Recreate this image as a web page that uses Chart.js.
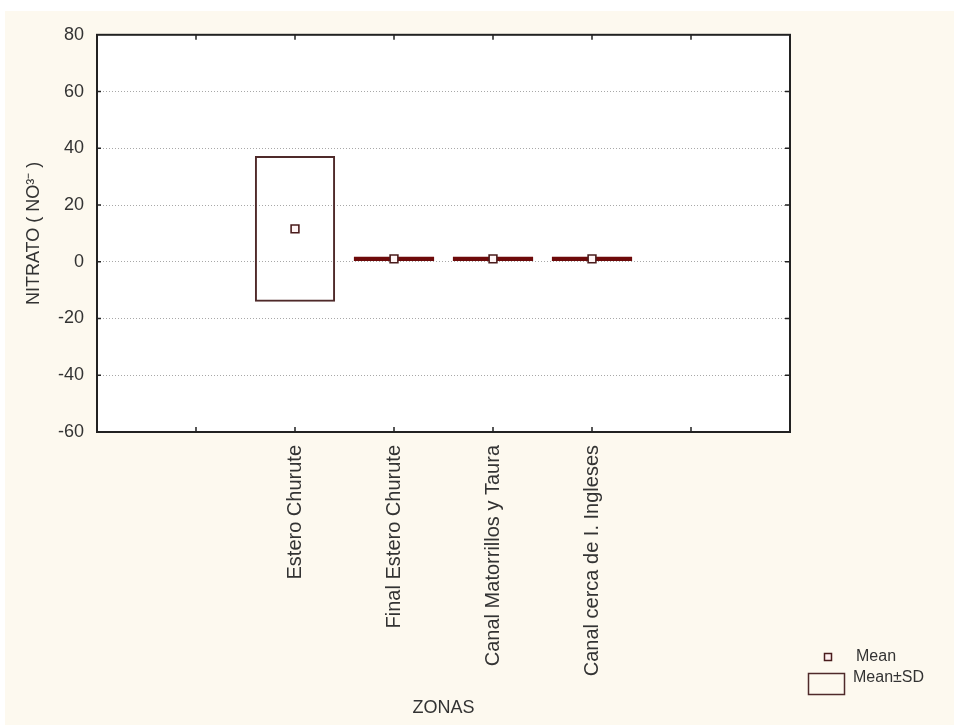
<!DOCTYPE html>
<html>
<head>
<meta charset="utf-8">
<script src="https://cdn.jsdelivr.net/npm/chart.js@4.4.1/dist/chart.umd.min.js"></script>
<style>
  body { margin: 0; background: #fff; }
  #wrap { position: absolute; left: 5px; top: 11px; width: 949px; height: 714px; }
</style>
</head>
<body>
<div id="wrap"><canvas id="myChart"></canvas></div>
<script>
// zones (empty slots on both sides, like the original plot)
var zonas = ["", "", "Estero Churute", "Final Estero Churute", "Canal Matorrillos y Taura", "Canal cerca de I. Ingleses", "", ""];
var meanArr = [null, null, 11.6, 1.0, 1.0, 1.0, null, null];
var sdLowArr = [null, null, -14.1, 0.3, 0.3, 0.3, null, null];
var sdHighArr = [null, null, 37.3, 1.8, 1.8, 1.8, null, null];
var yMin = -60, yMax = 80, yStep = 20;

var FONT = "'Liberation Sans', Arial, sans-serif";
Chart.defaults.font.family = FONT;
Chart.defaults.color = "#333";

// floating bars for mean +- SD
var sdArr = zonas.map(function (z, i) {
  return sdLowArr[i] == null ? null : [sdLowArr[i], sdHighArr[i]];
});

function isThin(ctx) {
  var v = ctx.raw;
  return v && Math.abs(v[1] - v[0]) < 5;
}

// background, frame, inward ticks and legend
var framePlugin = {
  id: "frame",
  beforeDraw: function (chart) {
    var c = chart.ctx, a = chart.chartArea;
    c.save();
    c.fillStyle = "#fdf9ef";
    c.fillRect(0, 0, chart.width, chart.height);
    c.fillStyle = "#fff";
    c.fillRect(a.left, a.top, a.right - a.left, a.bottom - a.top);
    c.restore();
  },
  afterDraw: function (chart) {
    var c = chart.ctx, a = chart.chartArea;
    var xs = chart.scales.x, ys = chart.scales.y;
    c.save();
    c.strokeStyle = "#222";
    c.lineWidth = 2;
    c.strokeRect(a.left, a.top, a.right - a.left, a.bottom - a.top);
    c.lineWidth = 1.5;
    c.beginPath();
    for (var i = 1; i < zonas.length - 1; i++) {
      var px = xs.getPixelForValue(i);
      c.moveTo(px, a.top); c.lineTo(px, a.top + 5);
      c.moveTo(px, a.bottom); c.lineTo(px, a.bottom - 5);
    }
    for (var v = yMin + yStep; v < yMax; v += yStep) {
      var py = ys.getPixelForValue(v);
      c.moveTo(a.left, py); c.lineTo(a.left + 4, py);
      c.moveTo(a.right, py); c.lineTo(a.right - 5, py);
    }
    c.stroke();

    // legend
    c.fillStyle = "#fff0f0";
    c.strokeStyle = "#4a1c1c";
    c.lineWidth = 1.5;
    c.fillRect(819.5, 642.5, 7, 7);
    c.strokeRect(819.5, 642.5, 7, 7);
    c.strokeStyle = "#4f2a2a";
    c.strokeRect(803.5, 662.5, 36, 21);
    c.fillStyle = "#333";
    c.font = "16px " + FONT;
    c.textBaseline = "middle";
    c.fillText("Mean", 851, 646);
    c.fillText("Mean\u00b1SD", 848, 667);
    c.restore();
  }
};

new Chart("myChart", {
  type: "bar",
  data: {
    labels: zonas,
    datasets: [
      {
        type: "line",
        label: "Mean",
        data: meanArr,
        showLine: false,
        order: 0,
        pointStyle: "rect",
        pointRadius: 5.5,
        pointHoverRadius: 5.5,
        pointBorderWidth: 1.6,
        pointBorderColor: "#4a1c1c",
        pointBackgroundColor: "#fff5f5"
      },
      {
        label: "Mean\u00b1SD",
        data: sdArr,
        order: 1,
        borderSkipped: false,
        borderWidth: function (ctx) { return isThin(ctx) ? 0 : 2; },
        borderColor: "#4f2a2a",
        backgroundColor: function (ctx) { return isThin(ctx) ? "#6e0a0a" : "rgba(255,255,255,0)"; },
        categoryPercentage: 1,
        barPercentage: 0.81
      }
    ]
  },
  options: {
    responsive: true,
    maintainAspectRatio: false,
    animation: false,
    layout: {
      padding: { top: 18, right: 164, left: 0, bottom: 0 }
    },
    plugins: {
      legend: { display: false },
      tooltip: { enabled: false }
    },
    scales: {
      x: {
        offset: false,
        grid: { display: false },
        border: { display: false },
        ticks: {
          autoSkip: false,
          minRotation: 90,
          maxRotation: 90,
          padding: 5,
          font: { size: 20 }
        },
        title: {
          display: true,
          text: "ZONAS",
          font: { size: 18 },
          padding: { top: 4, bottom: 6 }
        },
        afterFit: function (s) { s.height = 293; }
      },
      y: {
        min: yMin,
        max: yMax,
        grid: { color: "#a8a8a8", drawTicks: false },
        border: { display: false, dash: [1, 2] },
        ticks: {
          stepSize: yStep,
          padding: 13,
          font: { size: 18 }
        },
        title: {
          display: true,
          text: "NITRATO ( NO\u00b3\u207b )",
          font: { size: 18 },
          padding: { top: 18, bottom: 4 }
        },
        afterFit: function (s) { s.width = 92; }
      }
    }
  },
  plugins: [framePlugin]
});
</script>
</body>
</html>
